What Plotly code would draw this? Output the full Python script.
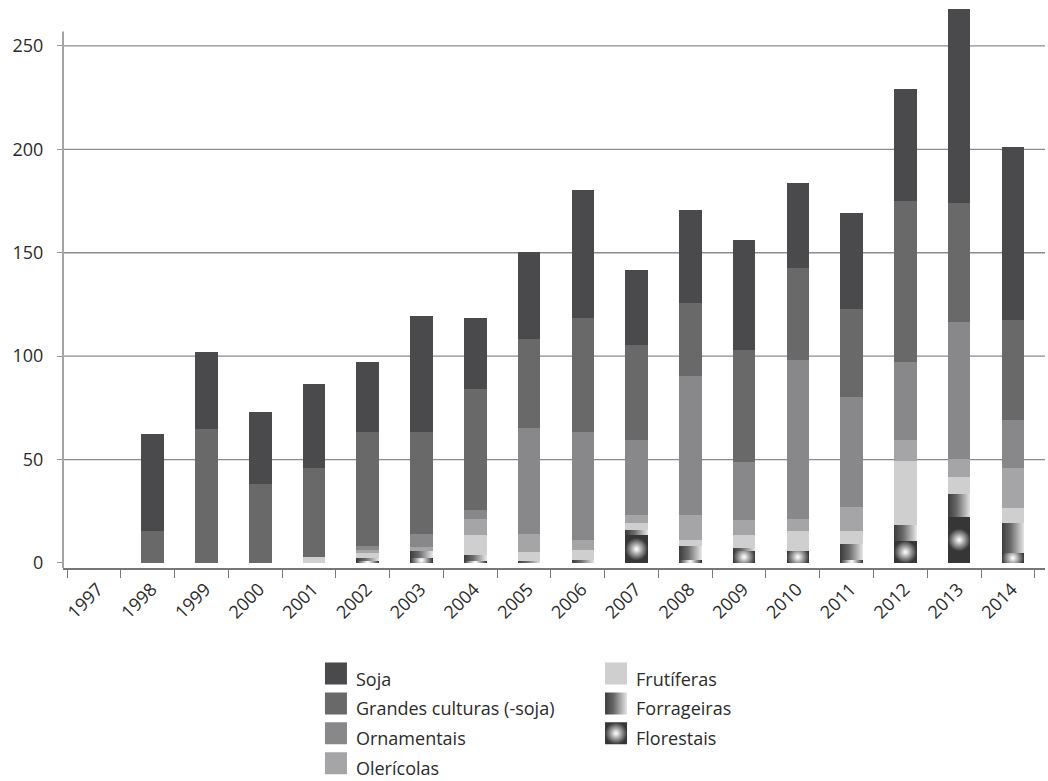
import plotly.graph_objects as go

# Registered cultivars per year, stacked by crop group
years = [str(y) for y in range(1997, 2015)]

florestais = [0, 0, 0, 0, 0, 1.0, 2.6, 1.0, 0, 0, 13.4, 1.3, 5.8, 5.7, 1.6, 10.6, 22.3, 4.8]
forrageiras = [0, 0, 0, 0, 0, 1.6, 3.1, 2.7, 1.0, 1.3, 2.4, 6.8, 1.5, 0, 7.4, 8.0, 11.3, 14.3]
frutiferas = [0, 0, 0, 0, 2.8, 2.2, 0, 9.7, 4.3, 5.2, 3.3, 3.2, 6.1, 9.8, 6.3, 30.7, 8.0, 7.7]
olericolas = [0, 0, 0, 0, 0, 1.7, 2.0, 7.7, 8.9, 4.5, 4.0, 11.8, 7.6, 5.6, 11.8, 10.1, 8.6, 19.2]
ornamentais = [0, 0, 0, 0, 0, 1.6, 6.5, 4.7, 51.0, 52.2, 36.3, 67.2, 27.9, 77.0, 53.1, 37.8, 66.1, 22.9]
grandes_culturas = [0, 15.3, 65.0, 38.4, 42.9, 55.3, 48.9, 58.2, 43.0, 55.2, 45.9, 35.3, 53.9, 44.5, 42.5, 77.9, 57.9, 48.5]
soja = [0, 47.0, 36.9, 34.5, 40.8, 33.7, 56.3, 34.4, 42.1, 61.8, 36.3, 44.9, 53.2, 41.1, 46.5, 53.9, 93.7, 83.9]

y_ticks = [0, 50, 100, 150, 200, 250]

# (name, values, base colour, legend, rank) from the bottom of the stack up
series = [
    ("Florestais", florestais, "#4a4a4a", "legend2", 3),
    ("Forrageiras", forrageiras, "#8a8a8a", "legend2", 2),
    ("Frutíferas", frutiferas, "#cfcfd0", "legend2", 1),
    ("Olerícolas", olericolas, "#a5a5a7", "legend", 4),
    ("Ornamentais", ornamentais, "#88888a", "legend", 3),
    ("Grandes culturas (-soja)", grandes_culturas, "#69696a", "legend", 2),
    ("Soja", soja, "#4a4a4c", "legend", 1),
]

TEXT = "#2b2b2b"
FONT = "Open Sans"

fig = go.Figure()
for name, vals, color, leg, rank in series:
    fig.add_trace(go.Bar(
        x=years, y=vals, name=name,
        marker=dict(color=color, line=dict(width=0)),
        width=0.42, offset=-0.117,
        legend=leg, legendrank=rank, legendgroup=name,
    ))

y_min, y_max = -2.42, 272.2
axis_top = 257

shapes = [
    dict(type="line", xref="paper", x0=0, x1=1, yref="y", y0=v, y1=v,
         line=dict(color="#8c8c8c", width=1.3), layer="below")
    for v in y_ticks if v > 0
]
shapes.append(dict(type="line", xref="paper", x0=0, x1=0, yref="y",
                   y0=y_min, y1=axis_top, line=dict(color="#a4a4a4", width=2)))

legend_style = dict(
    orientation="v", traceorder="grouped", tracegroupgap=3.5,
    font=dict(family=FONT, size=18, color=TEXT),
    bgcolor="rgba(0,0,0,0)", borderwidth=0,
    xref="paper", yref="paper", xanchor="left", yanchor="top",
)

fig.update_layout(
    width=1048, height=781,
    margin=dict(l=63, r=3, t=0, b=213.3, pad=0, autoexpand=False),
    paper_bgcolor="white", plot_bgcolor="white",
    barmode="stack", hovermode=False,
    font=dict(family=FONT, size=18, color=TEXT),
    shapes=shapes,
    legend=dict(legend_style, x=0.2576, y=-0.1626),
    legend2=dict(legend_style, x=0.5428, y=-0.1626),
    xaxis=dict(
        type="category", range=[-0.575, 17.69], automargin=False,
        tickson="boundaries", ticks="outside", ticklen=8, tickcolor="#777777",
        showline=True, linecolor="#777777", linewidth=1.5,
        showgrid=False, zeroline=False, tickangle=-45,
        ticklabelshift=4, ticklabelstandoff=2,
        tickfont=dict(family=FONT, size=18, color=TEXT),
    ),
    yaxis=dict(
        range=[y_min, y_max], tickvals=y_ticks, automargin=False,
        ticks="outside", ticklen=5, tickcolor="#999999",
        showgrid=False, zeroline=False, showline=False,
        ticklabelstandoff=10,
        tickfont=dict(family=FONT, size=18, color=TEXT),
    ),
)

# Gradient fills for Forrageiras (horizontal) and Florestais (radial glow),
# plus larger square swatches in both legends
post_js = """
(function(){
var gd = document.getElementById('{plot_id}');
var NS = 'http://www.w3.org/2000/svg';
function stop(g, off, col){
  var s = document.createElementNS(NS, 'stop');
  s.setAttribute('offset', off); s.setAttribute('stop-color', col); g.appendChild(s);
}
function paint(){
  var svg = gd.querySelector('svg.main-svg');
  if (!svg) return;
  var defs = svg.querySelector('defs');
  defs.querySelectorAll('.crop-grad').forEach(function(e){ e.remove(); });
  var lg = document.createElementNS(NS, 'linearGradient');
  lg.setAttribute('id', 'forr-grad'); lg.setAttribute('class', 'crop-grad');
  lg.setAttribute('x1', '0'); lg.setAttribute('y1', '0');
  lg.setAttribute('x2', '1'); lg.setAttribute('y2', '0');
  stop(lg, '0', '#3c3c3c'); stop(lg, '0.4', '#6a6a6a'); stop(lg, '1', '#e6e6e6');
  defs.appendChild(lg);
  var n = 0;
  function radial(path){
    var b = path.getBBox();
    if (b.width <= 0 || b.height <= 0) return;
    var id = 'flor-grad-' + (n++);
    var rg = document.createElementNS(NS, 'radialGradient');
    rg.setAttribute('id', id); rg.setAttribute('class', 'crop-grad');
    rg.setAttribute('gradientUnits', 'userSpaceOnUse');
    rg.setAttribute('cx', b.x + b.width / 2); rg.setAttribute('cy', b.y + b.height / 2);
    rg.setAttribute('r', b.width / 2);
    stop(rg, '0', '#ffffff'); stop(rg, '0.12', '#ececec');
    stop(rg, '0.5', '#9c9c9c'); stop(rg, '1', '#363636');
    defs.appendChild(rg);
    path.style.fill = 'url(#' + id + ')';
  }
  function fillFor(name, path){
    if (name === 'Forrageiras') path.style.fill = 'url(#forr-grad)';
    else if (name === 'Florestais') radial(path);
  }
  gd.querySelectorAll('.barlayer .trace').forEach(function(tg){
    var d = tg.__data__; if (!d || !d[0] || !d[0].trace) return;
    var name = d[0].trace.name;
    tg.querySelectorAll('.point path').forEach(function(p){ fillFor(name, p); });
  });
  gd.querySelectorAll('.legendpoints').forEach(function(lp){
    var it = lp.closest('.traces');
    if (!it) return;
    var d = it.__data__; if (!d || !d[0] || !d[0].trace) return;
    var name = d[0].trace.name;
    lp.querySelectorAll('path').forEach(function(p){
      p.setAttribute('d', 'M11,6H-11V-16H11Z');
      fillFor(name, p);
    });
  });
}
paint();
gd.on('plotly_afterplot', paint);
})();
"""

fig.write_html("out.html", post_script=post_js)
